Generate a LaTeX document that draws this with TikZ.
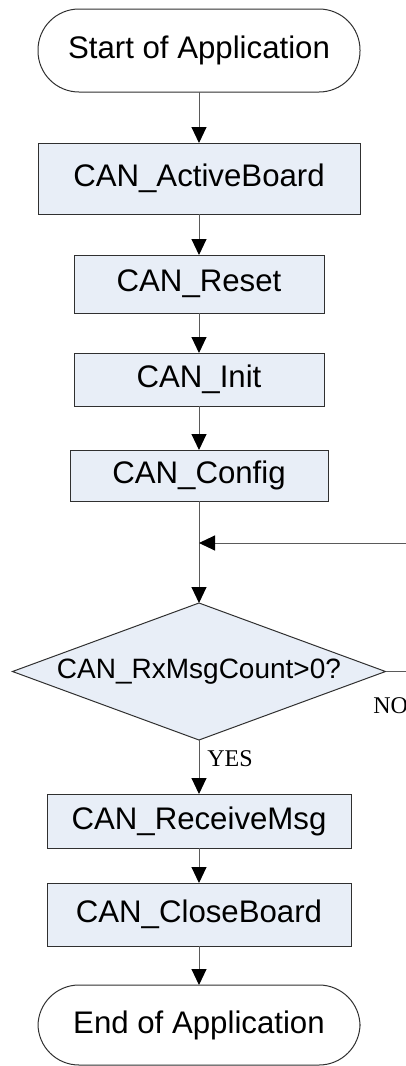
\documentclass[tikz,border=0pt]{standalone}
\usepackage{fontspec}
\setmainfont{Liberation Serif}
\setsansfont{Liberation Sans}
\usetikzlibrary{positioning,arrows.meta,shapes.geometric}
\definecolor{cnfill}{HTML}{E8EEF7}
\definecolor{cnedge}{HTML}{303030}
\definecolor{cnline}{HTML}{5A5A5A}

\begin{document}
\begin{tikzpicture}[
  x=0.5pt, y=-0.5pt,
  term/.style={draw=cnedge, line width=0.5pt, rounded corners=20.5pt, fill=white, minimum width=161pt, inner sep=2pt, outer sep=0pt, font=\sffamily\fontsize{15.6pt}{18pt}\selectfont},
  proc/.style={draw=cnedge, line width=0.5pt, fill=cnfill, inner sep=2pt, outer sep=0pt, font=\sffamily\fontsize{15.6pt}{18pt}\selectfont},
  dec/.style={diamond, draw=cnedge, line width=0.5pt, fill=cnfill, aspect=2.72, inner sep=0pt, outer sep=0pt, minimum width=186.5pt, minimum height=68.5pt, font=\sffamily\fontsize{14pt}{16pt}\selectfont},
  lbl/.style={inner sep=0pt, font=\fontsize{12pt}{14pt}\selectfont},
  line/.style={draw=cnline, line width=0.5pt},
  arr/.style={line, -{Triangle[length=8pt,width=7.5pt,color=black,fill=black]}}
]
\useasboundingbox (0,0) rectangle (406,1066);
\node[term, minimum height=41.5pt] (start) at (199,50.5) {Start of Application};
\node[proc, minimum width=161pt, minimum height=35.5pt, below=25.5pt of start] (active) {CAN\_ActiveBoard};
\node[proc, minimum width=125pt, minimum height=29pt, below=20.5pt of active] (reset) {CAN\_Reset};
\node[proc, minimum width=125pt, minimum height=26.5pt, below=20pt of reset] (init) {CAN\_Init};
\node[proc, minimum width=129pt, minimum height=25.5pt, below=22pt of init] (config) {CAN\_Config};
\node[dec, below=51pt of config] (cnt) {CAN\_RxMsgCount>0?};
\node[proc, minimum width=152pt, minimum height=27pt, below=27pt of cnt] (recv) {CAN\_ReceiveMsg};
\node[proc, minimum width=152pt, minimum height=31.5pt, below=17.5pt of recv] (close) {CAN\_CloseBoard};
\node[term, minimum height=40pt, below=19.5pt of close] (stop) {End of Application};
% loop back, cut off at the right edge
\coordinate (join) at (199,543);
\coordinate (loopin) at (406,543);
\coordinate (noend) at (cnt.east -| loopin);
\node[lbl, anchor=base west] (yes) at (207,766) {YES};
\node[lbl, anchor=base west] (no) at (373,713) {NO};
\draw[arr] (start) -- (active);
\draw[arr] (active) -- (reset);
\draw[arr] (reset) -- (init);
\draw[arr] (init) -- (config);
\draw[line] (config) -- (join);
\draw[arr] (join) -- (cnt);
\draw[arr] (loopin) -- (join);
\draw[line] (cnt.east) -- (noend);
\draw[arr] (cnt) -- (recv);
\draw[arr] (recv) -- (close);
\draw[arr] (close) -- (stop);
\end{tikzpicture}
\end{document}
